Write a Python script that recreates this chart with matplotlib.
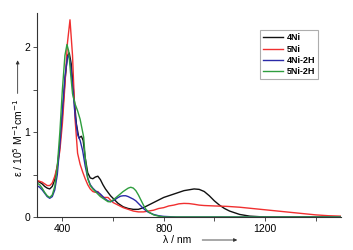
import matplotlib
matplotlib.use("Agg")
import matplotlib.pyplot as plt
import numpy as np

plt.rcParams['font.family'] = ['Liberation Sans', 'DejaVu Sans']

# wavelength (nm) / epsilon (10^5 M^-1 cm^-1)
wl_4ni = [300, 310, 320, 330, 340, 350, 360, 370, 380, 390, 400, 410, 420, 427, 435, 445, 455, 465, 475,
          482, 490, 500, 510, 520, 530, 540, 550, 560, 570, 580, 590, 600, 620, 640, 660, 680, 700, 720,
          740, 760, 780, 800, 820, 850, 880, 900, 920, 940, 960, 980, 1000, 1020, 1040, 1060, 1080, 1100,
          1140, 1200, 1500]
ep_4ni = [0.42, 0.41, 0.39, 0.36, 0.34, 0.33, 0.36, 0.44, 0.60, 0.85, 1.20, 1.60, 1.90, 1.93, 1.80, 1.45,
          1.10, 0.93, 0.95, 0.90, 0.70, 0.52, 0.46, 0.45, 0.47, 0.48, 0.44, 0.38, 0.33, 0.29, 0.25, 0.22,
          0.16, 0.12, 0.10, 0.09, 0.09, 0.11, 0.14, 0.17, 0.20, 0.23, 0.25, 0.28, 0.31, 0.32, 0.33, 0.325,
          0.30, 0.25, 0.19, 0.14, 0.10, 0.07, 0.05, 0.03, 0.01, 0.0, 0.0]

wl_5ni = [300, 310, 320, 330, 340, 350, 360, 370, 380, 390, 400, 410, 420, 430, 440, 450, 460, 470, 480,
          490, 500, 510, 520, 530, 540, 550, 560, 570, 580, 590, 600, 620, 640, 660, 680, 700, 720, 740,
          760, 780, 800, 820, 840, 860, 880, 900, 920, 940, 960, 1000, 1050, 1100, 1150, 1200, 1250, 1300,
          1350, 1400, 1450, 1500]
ep_5ni = [0.43, 0.42, 0.41, 0.39, 0.37, 0.37, 0.40, 0.48, 0.60, 0.78, 1.10, 1.55, 2.05, 2.32, 1.90, 1.15,
          0.75, 0.62, 0.53, 0.45, 0.38, 0.33, 0.30, 0.29, 0.30, 0.26, 0.23, 0.23, 0.23, 0.20, 0.17, 0.14,
          0.11, 0.09, 0.07, 0.06, 0.06, 0.07, 0.08, 0.10, 0.11, 0.13, 0.14, 0.155, 0.16, 0.158, 0.15, 0.14,
          0.135, 0.13, 0.125, 0.115, 0.10, 0.085, 0.07, 0.055, 0.04, 0.025, 0.015, 0.01]

wl_4ni2h = [300, 310, 320, 330, 340, 350, 360, 370, 380, 390, 400, 410, 420, 425, 432, 440, 450, 460, 470,
            480, 490, 500, 510, 520, 530, 540, 550, 560, 570, 580, 590, 600, 610, 620, 630, 640, 650, 660,
            670, 680, 690, 700, 710, 720, 730, 740, 760, 780, 800, 850, 1500]
ep_4ni2h = [0.37, 0.35, 0.32, 0.28, 0.24, 0.22, 0.24, 0.32, 0.50, 0.85, 1.25, 1.65, 1.88, 1.90, 1.80, 1.55,
            1.20, 0.97, 0.90, 0.78, 0.60, 0.46, 0.38, 0.34, 0.31, 0.29, 0.27, 0.24, 0.21, 0.19, 0.18, 0.19,
            0.21, 0.23, 0.245, 0.25, 0.25, 0.24, 0.225, 0.21, 0.19, 0.16, 0.13, 0.10, 0.075, 0.055, 0.03,
            0.015, 0.007, 0.0, 0.0]

wl_5ni2h = [300, 310, 320, 330, 340, 350, 360, 370, 380, 390, 400, 410, 418, 425, 432, 440, 450, 460, 470,
            480, 484, 490, 500, 510, 520, 530, 540, 550, 560, 570, 580, 590, 600, 620, 640, 660, 670, 680,
            690, 700, 710, 720, 730, 740, 760, 780, 800, 1500]
ep_5ni2h = [0.40, 0.38, 0.34, 0.29, 0.25, 0.23, 0.26, 0.36, 0.60, 1.00, 1.50, 1.90, 2.03, 1.95, 1.70, 1.45,
            1.33, 1.25, 1.15, 1.00, 0.94, 0.70, 0.45, 0.37, 0.33, 0.30, 0.27, 0.24, 0.22, 0.20, 0.18, 0.18,
            0.20, 0.25, 0.30, 0.34, 0.35, 0.34, 0.31, 0.26, 0.20, 0.14, 0.09, 0.06, 0.025, 0.01, 0.0, 0.0]

series = [("4Ni", wl_4ni, ep_4ni, "#111111"),
          ("5Ni", wl_5ni, ep_5ni, "#f03030"),
          ("4Ni-2H", wl_4ni2h, ep_4ni2h, "#2a2aa8"),
          ("5Ni-2H", wl_5ni2h, ep_5ni2h, "#2e9e3e")]

fig = plt.figure(figsize=(3.53, 2.5), dpi=100)
ax = fig.add_axes([0.105, 0.132, 0.861, 0.816])

for name, wl, ep, col in series:
    ax.plot(wl, ep, color=col, lw=1.0, label=name)

ax.set_xlim(300, 1500)
ax.set_ylim(0, 2.4)
ax.set_xticks([400, 800, 1200])
ax.set_xticks([600, 1000, 1400], minor=True)
ax.set_yticks([0, 1, 2])
ax.set_yticks([0.5, 1.5], minor=True)
ax.tick_params(which='both', labelsize=7.5, width=0.6, color='#333333', pad=2)
ax.tick_params(which='major', length=3)
ax.tick_params(which='minor', length=3)
for s in ['top', 'right']:
    ax.spines[s].set_visible(False)
for s in ['left', 'bottom']:
    ax.spines[s].set_linewidth(0.8)
    ax.spines[s].set_color('#333333')

# axis labels with arrows
fig.text(0.462, 0.04, "λ / nm", fontsize=7.5, ha='left', va='center')
ax.annotate("", xy=(0.68, 0.04), xytext=(0.565, 0.04), xycoords='figure fraction',
            arrowprops=dict(arrowstyle='-|>', lw=0.6, color='#333333', mutation_scale=5))
fig.text(0.05, 0.45, "ε / 10$^5$ M$^{-1}$cm$^{-1}$", fontsize=7.5, rotation=90, ha='center', va='center')
ax.annotate("", xy=(0.05, 0.77), xytext=(0.05, 0.615), xycoords='figure fraction',
            arrowprops=dict(arrowstyle='-|>', lw=0.6, color='#333333', mutation_scale=5))

leg = ax.legend(loc='upper left', bbox_to_anchor=(0.733, 0.915), fontsize=6.5, frameon=True,
                fancybox=False, handlelength=2.2, handletextpad=0.4, labelspacing=0.25,
                borderpad=0.35, borderaxespad=0)
leg.get_frame().set_edgecolor('#999999')
leg.get_frame().set_linewidth(0.8)
for t in leg.get_texts():
    t.set_fontweight('bold')

fig.savefig("out.png", dpi=100)
